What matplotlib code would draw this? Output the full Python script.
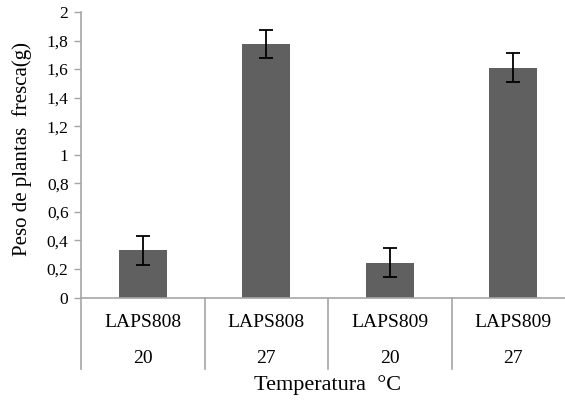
import matplotlib
matplotlib.use("Agg")
import matplotlib.pyplot as plt
import matplotlib.transforms as mtransforms

plt.rcParams['font.family'] = ['Liberation Serif', 'DejaVu Serif']

genotypes = ["LAPS808", "LAPS808", "LAPS809", "LAPS809"]
temps = ["20", "27", "20", "27"]
peso = [0.33, 1.775, 0.245, 1.61]
erro = [0.10, 0.10, 0.10, 0.10]
yticks = [0, 0.2, 0.4, 0.6, 0.8, 1.0, 1.2, 1.4, 1.6, 1.8, 2.0]

axis_grey = "#a6a6a6"

fig = plt.figure(figsize=(5.65, 4.0), dpi=100)
# plot area runs a little past the right edge of the figure
ax = fig.add_axes([81 / 565, 1 - 297.5 / 400, 494 / 565, 285.5 / 400])

x = list(range(len(peso)))
ax.bar(x, peso, width=0.39, color="#606060", zorder=2)
ax.errorbar(x, peso, yerr=erro, fmt="none", ecolor="black", elinewidth=1.3,
            capsize=5, capthick=1.3, zorder=3)

ax.set_xlim(-0.5, len(peso) - 0.5)
ax.set_ylim(0, 2)
ax.set_yticks(yticks)
ax.set_yticklabels([("%g" % v).replace(".", ",") for v in yticks], fontsize=12.5)
ax.tick_params(axis="y", direction="out", length=5, width=1, color=axis_grey, pad=4)
ax.set_xticks([])

for s in ["top", "right"]:
    ax.spines[s].set_visible(False)
for s in ["left", "bottom"]:
    ax.spines[s].set_color(axis_grey)
    ax.spines[s].set_linewidth(1.2)

# two-level category labels under the axis
trans = mtransforms.blended_transform_factory(ax.transData, ax.transAxes)
for i, (g, t) in enumerate(zip(genotypes, temps)):
    ax.text(i, -0.087, g, transform=trans, ha="center", va="center", fontsize=14)
    ax.text(i, -0.213, t, transform=trans, ha="center", va="center", fontsize=14)
for b in [-0.5, 0.5, 1.5, 2.5]:
    ax.plot([b, b], [0, -0.25], transform=trans, color=axis_grey, lw=1.2,
            clip_on=False)

fig.text(328 / 565, 1 - 385 / 400, "Temperatura  °C", ha="center", va="center",
         fontsize=16)
fig.text(22 / 565, 1 - 149 / 400, "Peso de plantas  fresca(g)", ha="center",
         va="center", rotation=90, fontsize=15)

fig.savefig("out.png", dpi=100)
